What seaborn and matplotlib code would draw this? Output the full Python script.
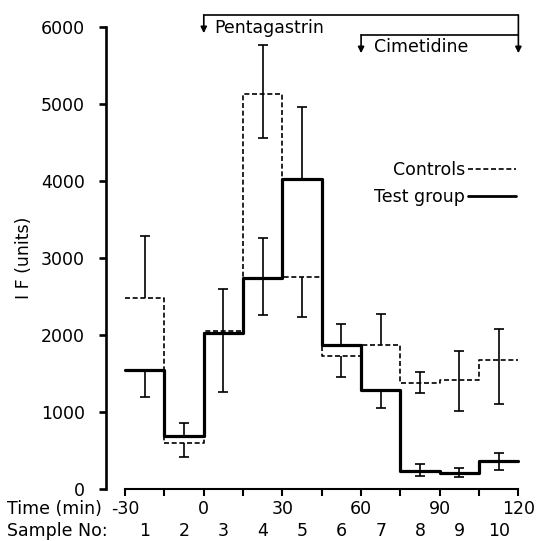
import matplotlib.pyplot as plt
import seaborn as sns
from matplotlib.lines import Line2D

# ── Data ──────────────────────────────────────────────────────────────────────
# each sample covers 15 min, from -30 to 120 min
sample_no = [1, 2, 3, 4, 5, 6, 7, 8, 9, 10]
edges = [-30, -15, 0, 15, 30, 45, 60, 75, 90, 105, 120]
time_ticks = [-30, 0, 30, 60, 90, 120]

controls = [2480, 600, 2050, 5130, 2750, 1730, 1870, 1380, 1415, 1670]
test_group = [1545, 690, 2030, 2735, 4030, 1870, 1285, 240, 205, 365]

# ends of the error bars (None = no bar on that side)
controls_hi = [3290, None, None, 5765, None, None, 2270, 1525, 1790, 2075]
controls_lo = [None, 420, 1255, 4560, 2240, 1460, None, 1250, 1015, 1100]
test_hi = [None, 855, 2600, 3260, 4965, 2145, None, 325, 270, 470]
test_lo = [1200, None, None, 2260, None, None, 1050, 170, 150, 245]

# infusion periods (min)
pentagastrin = (0, 120)
cimetidine = (60, 120)

FS = 12.5

# ── Plot ──────────────────────────────────────────────────────────────────────
sns.set_style('ticks')
plt.rcParams['font.family'] = ['DejaVu Sans']
plt.rcParams.update({'text.color': 'black', 'axes.labelcolor': 'black',
                     'xtick.color': 'black', 'ytick.color': 'black',
                     'axes.edgecolor': 'black'})

fig = plt.figure(figsize=(5.36, 5.41), dpi=100)
ax = fig.add_axes([106 / 536, 52 / 541, 415 / 536, 462 / 541])

mids = [(a + b) / 2 for a, b in zip(edges[:-1], edges[1:])]

sns.lineplot(x=edges, y=controls + [controls[-1]], drawstyle='steps-post',
             color='black', linewidth=1.2, linestyle=(0, (3, 1.6)), ax=ax)
sns.lineplot(x=edges, y=test_group + [test_group[-1]], drawstyle='steps-post',
             color='black', linewidth=2.3, ax=ax)

def err_bars(means, ends):
    for x, m, e in zip(mids, means, ends):
        if e is None:
            continue
        ax.vlines(x, m, e, color='black', linewidth=1.2, zorder=4)
        ax.plot([x], [e], marker='_', markersize=7, markeredgewidth=1.2,
                color='black', zorder=4)

err_bars(controls, controls_hi)
err_bars(controls, controls_lo)
err_bars(test_group, test_hi)
err_bars(test_group, test_lo)

# axes
ax.set_xlim(-37.3, 121)
ax.set_ylim(0, 6000)
ax.spines['bottom'].set_bounds(edges[0], edges[-1])
ax.spines['left'].set_linewidth(1.9)
ax.spines['bottom'].set_linewidth(1.5)
sns.despine(ax=ax)
ax.set_xticks(edges)
ax.set_xticklabels([str(t) if t in time_ticks else '' for t in edges], fontsize=FS)
ax.set_yticks(range(0, 6001, 1000))
ax.set_yticklabels([str(v) for v in range(0, 6001, 1000)], fontsize=FS)
ax.tick_params(axis='x', length=5, width=1.5, pad=3)
ax.tick_params(axis='y', length=5, width=1.9, pad=10)
ax.set_ylabel('I F (units)', fontsize=FS, labelpad=6)

# sample numbers row
for x, n in zip(mids, sample_no):
    ax.text(x, -0.091, str(n), transform=ax.get_xaxis_transform(),
            ha='center', va='center', fontsize=FS)
fig.text(7 / 536, 1 - 509 / 541, 'Time (min)', ha='left', va='center', fontsize=FS)
fig.text(7 / 536, 1 - 531 / 541, 'Sample No:', ha='left', va='center', fontsize=FS)

# infusion brackets
arrow = dict(arrowstyle='-|>', lw=1.2, color='black', mutation_scale=9,
             shrinkA=0, shrinkB=0)
ax.plot([pentagastrin[0], pentagastrin[1]], [6156, 6156], color='black',
        lw=1.2, clip_on=False)
ax.annotate('', xy=(pentagastrin[0], 5920), xytext=(pentagastrin[0], 6156),
            arrowprops=arrow, annotation_clip=False)
ax.annotate('', xy=(pentagastrin[1], 5660), xytext=(pentagastrin[1], 6156),
            arrowprops=arrow, annotation_clip=False)
ax.text(pentagastrin[0] + 4, 5985, 'Pentagastrin', fontsize=FS, va='center', ha='left')
ax.plot([cimetidine[0], cimetidine[1]], [5896, 5896], color='black',
        lw=1.2, clip_on=False)
ax.annotate('', xy=(cimetidine[0], 5660), xytext=(cimetidine[0], 5896),
            arrowprops=arrow, annotation_clip=False)
ax.text(cimetidine[0] + 5, 5735, 'Cimetidine', fontsize=FS, va='center', ha='left')

# legend: text first, line after
handles = [Line2D([], [], color='black', lw=1.2, linestyle=(0, (3, 1.6))),
           Line2D([], [], color='black', lw=2.0)]
ax.legend(handles, ['Controls', 'Test group'], markerfirst=False, frameon=False,
          fontsize=FS, handlelength=2.8, handletextpad=0.15, labelspacing=0.5,
          loc='upper right', bbox_to_anchor=(1.005, 0.725), borderaxespad=0)

fig.savefig('out.png', dpi=100)
